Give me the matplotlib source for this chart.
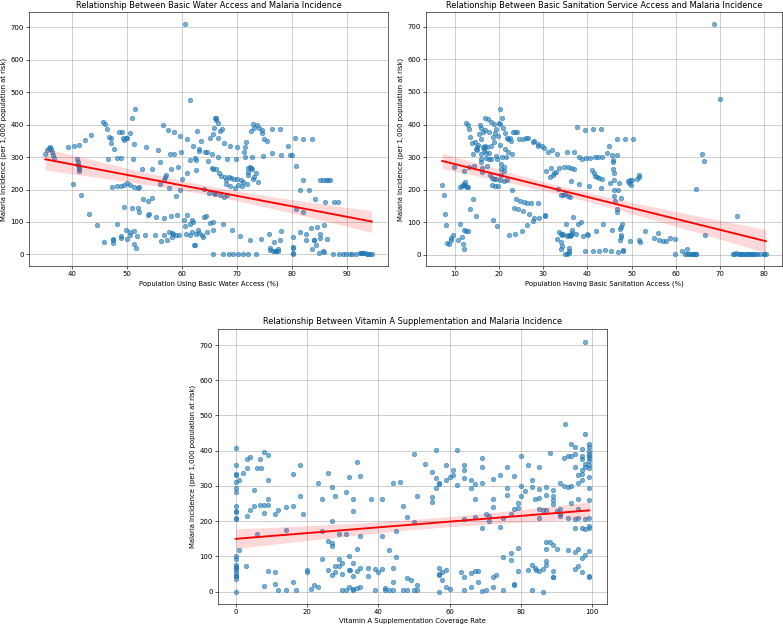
import numpy as np
import matplotlib
matplotlib.use("Agg")
import matplotlib.pyplot as plt

# --- data --------------------------------------------------------------
water_x = [
    35.2, 35.5, 35.8, 36.0, 36.2, 36.4, 36.6, 36.7,
    39.4, 40.4, 41.4, 42.5, 43.5,
    41.0, 41.1, 41.2, 41.3, 41.3, 41.4,
    40.2, 41.7, 43.2, 44.6,
    45.6, 46.1, 46.4, 46.8, 47.2, 47.2, 47.6,
    46.5, 48.2, 49.0,
    48.6, 49.1, 49.3, 49.5, 49.8, 50.1, 50.6,
    51.0, 51.5, 51.3, 51.2,
    47.3, 48.2, 48.9, 49.5, 50.0, 50.5, 51.3, 52.0, 52.3,
    45.9, 47.5, 47.5, 47.5, 48.3, 48.9, 49.0, 49.5, 49.8, 50.1,
    50.6, 50.5, 51.0, 51.3, 51.4, 51.6, 51.8, 52.0, 52.3,
    52.8, 52.9, 53.4, 53.5, 53.8, 53.9, 54.0, 54.6, 54.5, 55.1, 55.3, 55.6,
    56.0, 56.1, 56.3, 56.5, 56.8, 56.7, 56.8, 57.0, 57.2, 57.3,
    57.5, 57.6, 57.7, 57.8, 58.0,
    58.1, 58.2, 58.3, 58.4, 58.6, 58.6, 59.0, 59.2, 59.3, 59.6,
    59.7, 59.9, 59.5, 59.0,
    60.0, 60.4, 60.5, 60.5, 60.8, 61.0, 61.0, 61.0, 61.4, 61.5,
    61.5, 61.5, 61.8, 61.9, 62.0, 62.1, 62.2, 62.4, 62.4, 62.5,
    62.6, 62.5, 62.8, 62.9, 63.1, 63.2, 63.2, 63.5, 63.6, 63.8,
    64.0, 64.1, 64.2, 64.4, 64.6, 64.6, 64.8, 64.9, 65.1, 65.2,
    65.4, 65.5, 65.6, 65.6, 65.6, 65.6, 65.7, 65.8, 65.9, 66.0,
    66.0, 66.2, 66.2, 66.3, 66.5, 66.5, 66.6, 66.8, 66.9, 67.0,
    67.2, 67.3, 67.4, 67.4, 67.6, 67.7, 67.9, 68.0, 68.1, 68.2,
    68.3, 68.5, 68.6, 68.8, 68.8, 69.0, 69.1, 69.3, 69.5, 69.7,
    69.8, 70.0, 70.1, 70.2, 70.3, 70.6, 70.8, 70.9, 71.2, 71.2,
    71.3, 71.4, 71.4, 71.7, 71.8, 72.0, 72.0, 72.0, 72.1, 72.3,
    72.4, 72.5, 72.6, 72.7, 72.8, 73.0, 73.0, 73.1, 73.2, 73.4,
    73.5, 73.6, 73.9, 74.0, 74.3, 74.6, 74.6, 74.8, 75.0, 75.4,
    75.9, 76.0, 76.0, 76.3, 76.4, 76.5, 76.8, 76.9, 77.2, 77.4,
    77.5, 77.8, 77.9, 78.0, 78.1, 79.3, 79.7, 80.0, 80.2, 80.2,
    80.2, 80.2, 80.2, 80.6, 80.8, 80.8, 81.5, 81.4, 82.0, 82.1,
    82.1, 82.6, 82.6, 83.2, 83.4, 83.7, 83.6, 84.0, 84.1, 84.2,
    84.3, 84.6, 84.9, 85.1, 85.2, 85.2, 85.6, 85.6, 85.8, 85.8,
    86.0, 86.2, 86.3, 86.5, 86.9, 87.5, 87.6, 88.3, 88.6, 89.3,
    89.9, 90.5, 91.0, 91.6, 92.3, 92.6, 92.8, 93.0, 93.3, 93.6,
    93.9, 94.2, 94.5,
]
water_y = [
    310, 322, 328, 330, 326, 315, 305, 297,
    330, 334, 337, 353, 368,
    295, 285, 276, 270, 262, 256,
    216, 183, 124, 90,
    407, 402, 386, 363, 359, 343, 325,
    294, 296, 296,
    378, 378, 358, 353, 358, 359, 375,
    420, 448, 340, 295,
    209, 211, 210, 214, 220, 215, 207, 205, 208,
    38, 49, 43, 36, 94, 58, 52, 145, 76, 47,
    70, 60, 142, 72, 33, 20, 57, 143, 132,
    263, 172, 60, 330, 122, 166, 125, 175, 263, 60, 115, 322,
    216, 285, 40, 398, 112, 59, 230, 240, 245, 43,
    383, 70, 204, 310, 262,
    118, 65, 55, 62, 308, 378, 180, 120, 268, 365,
    200, 315, 60, 60,
    232, 105, 711, 88, 62, 355, 122, 250, 60, 290,
    95, 477, 70, 105, 335, 100, 30, 28, 298, 290,
    261, 63, 380, 75, 65, 325, 320, 350, 60, 55,
    115, 202, 315, 118, 315, 68, 288, 188, 97, 360,
    308, 267, 262, 100, 75, 2, 370, 390, 190, 185,
    420, 420, 413, 262, 358, 405, 300, 250, 182, 380,
    243, 385, 95, 2, 344, 178, 240, 228, 218, 182,
    295, 2, 238, 210, 335, 236, 75, 2, 233, 205,
    295, 232, 330, 215, 2, 56, 228, 210, 222, 2,
    315, 300, 332, 345, 218, 255, 245, 2, 265, 270,
    43, 267, 379, 262, 300, 403, 232, 240, 390, 2,
    250, 400, 222, 390, 47, 383, 375, 302, 357, 349,
    62, 20, 13, 312, 387, 12, 38, 10, 12, 17,
    10, 45, 387, 72, 306, 333, 305, 307, 53, 22,
    20, 5, 2, 358, 271, 140, 200, 68, 230, 130,
    355, 63, 43, 197, 80, 17, 354, 46, 45, 170,
    28, 83, 4, 62, 52, 228, 11, 228, 92, 8,
    162, 228, 48, 228, 230, 2, 160, 160, 1, 2,
    2, 1, 0, 1, 3, 4, 4, 3, 3, 2,
    1, 1, 0,
]

sanit_x = [
    7.1, 7.4, 7.8, 8.0, 8.3, 8.7, 9.0, 9.2, 9.5, 9.85,
    10.6, 11.05, 11.2, 11.5, 11.8, 12.0, 12.2, 12.5, 12.7, 12.9,
    11.5, 11.9, 12.0, 12.0, 12.5, 13.0,
    12.4, 12.9, 13.2, 13.5, 13.9,
    13.2, 12.0, 13.5, 14.0, 14.1, 14.3, 14.8, 14.7, 14.9,
    15.2, 15.5, 15.7, 15.8, 15.9, 15.9, 16.0, 16.0, 16.1, 16.2,
    16.3, 16.5, 16.6, 16.7, 16.7, 16.8, 17.0, 17.0, 17.2, 17.2,
    17.5, 17.6, 17.7, 18.0, 18.1, 18.1, 18.2, 18.3, 18.4, 18.5,
    18.5, 18.8, 18.8, 18.9, 19.0, 19.1, 19.2, 19.3, 19.3, 19.5,
    19.5, 19.7, 19.9, 20.1, 20.1, 20.2, 20.2, 20.4, 20.5, 20.5,
    20.6, 20.7, 20.8, 21.0, 21.1, 21.2, 21.4, 21.4, 21.7, 21.8,
    22.0, 22.1, 22.3, 22.5, 22.6, 22.8, 23.0, 23.1, 23.4, 23.5,
    23.7, 23.9, 24.0, 24.3, 24.5, 24.8, 25.1, 25.3, 25.5, 25.6,
    26.0, 26.2, 26.4, 26.5, 26.8, 27.3, 27.6, 27.7, 27.8, 28.0,
    28.7, 28.8, 28.9, 29.0, 29.7, 30.2, 30.3, 30.5, 30.6, 31.0,
    31.5, 31.8, 32.0, 32.2, 32.4, 32.9, 33.0, 33.2, 33.3, 33.5,
    33.6, 33.9, 34.0, 34.0, 34.0, 34.2, 34.3, 34.5, 34.5, 34.8,
    34.9, 35.0, 35.1, 35.3, 35.4, 35.4, 35.5, 35.5, 35.6, 35.8,
    35.9, 35.9, 36.0, 36.0, 36.1, 36.2, 36.2, 36.3, 36.5, 36.6,
    36.8, 36.9, 37.0, 37.3, 37.6, 37.9, 38.0, 38.2, 38.5, 38.8,
    39.0, 39.5, 39.5, 39.6, 40.0, 40.2, 40.4, 40.6, 41.0, 41.2,
    41.3, 41.5, 41.8, 41.8, 42.0, 42.2, 42.5, 42.6, 42.6, 43.0,
    43.1, 43.2, 43.3, 43.5, 44.0, 44.4, 44.8, 45.0, 45.4, 45.6,
    45.6, 45.9, 45.9, 45.9, 46.0, 46.0, 46.1, 46.1, 46.2, 46.6,
    46.7, 46.8, 46.8, 46.9, 46.9, 47.2, 47.3, 47.4, 47.5, 47.6,
    47.7, 47.7, 47.9, 48.1, 48.1, 48.5, 49.2, 49.4, 49.6, 49.7,
    49.9, 50.0, 50.4, 51.3, 51.6, 51.7, 51.7, 51.8, 53.0, 55.0,
    56.0, 56.2, 57.0, 57.8, 58.8, 59.8, 59.9, 61.5, 62.0, 62.6,
    63.0, 63.4, 64.0, 64.6, 64.6, 64.7, 65.9, 66.3, 66.6, 68.6,
    70.0, 73.0, 73.3, 73.6, 73.9, 74.5, 75.0, 75.8, 76.2, 76.9,
    77.5, 78.5, 79.9, 80.4,
    14.5, 15.0, 16.4, 17.8, 19.8, 21.5, 62.5, 63.8,
    74.0, 74.8, 75.4, 76.5, 77.2, 78.0, 79.0, 80.0,
]
sanit_y = [
    215, 183, 124, 90, 36, 33, 50, 46, 61, 269,
    45, 95, 208, 210, 213, 218, 222, 210, 207, 207,
    56, 33, 19, 76, 73, 73,
    406, 400, 385, 362, 344,
    270, 258, 142, 310, 170, 273, 120, 325, 330,
    338, 370, 398, 390, 355, 310, 295, 284, 265, 255,
    330, 320, 328, 333, 420, 382, 312, 298, 330, 273,
    418, 378, 313, 245, 408, 335, 295, 235, 213, 362,
    106, 402, 233, 345, 210, 375, 302, 385, 232, 295,
    88, 212, 405, 338, 230, 447, 402, 262, 245, 280,
    300, 420, 390, 270, 258, 228, 375, 325, 230, 358,
    315, 355, 62, 358, 350, 198, 308, 378, 143, 378,
    64, 170, 378, 140, 355, 165, 72, 357, 133, 162,
    358, 92, 160, 358, 125, 160, 345, 104, 350, 113,
    160, 333, 340, 113, 335, 328, 118, 122, 258, 315,
    240, 265, 322, 245, 250, 255, 48, 310, 202, 70,
    265, 65, 185, 40, 18, 28, 60, 65, 185, 268,
    2, 188, 95, 58, 315, 3, 268, 60, 180, 12,
    5, 22, 62, 57, 178, 265, 228, 62, 68, 75,
    116, 262, 315, 65, 392, 96, 300, 218, 100, 295,
    57, 383, 12, 296, 65, 60, 210, 298, 260, 12,
    385, 250, 300, 243, 72, 240, 300, 235, 12, 205,
    386, 232, 300, 96, 14, 312, 335, 220, 12, 305,
    75, 285, 292, 262, 250, 230, 200, 180, 165, 140,
    130, 357, 305, 200, 10, 220, 80, 45, 62, 85,
    175, 55, 93, 12, 16, 355, 228, 220, 42, 230,
    215, 230, 355, 232, 240, 245, 45, 38, 72, 52,
    68, 45, 42, 43, 50, 48, 2, 12, 2, 18,
    2, 3, 2, 2, 202, 3, 308, 288, 62, 710,
    477, 2, 3, 5, 118, 2, 2, 2, 3, 2,
    2, 1, 2, 1,
    345, 322, 378, 295, 365, 300, 2, 2,
    2, 1, 3, 2, 1, 2, 1, 2,
]

vita_x = [
    0, 0, 0, 0, 0, 0, 0, 0, 0, 0,
    0, 0, 0, 0, 0, 0, 0, 0, 0, 0, 0,
    1, 1, 2, 3.1, 3.1, 3.1, 3, 3.9, 3.9, 5,
    5, 5.9, 5.9, 6.9, 7, 6.9, 8, 7.9, 8, 8,
    9, 9, 9, 9, 9, 10.9, 10.9, 10.9, 12, 12,
    14, 14, 14, 16, 16, 16, 17, 18, 18, 19,
    20, 20, 21, 22, 23, 23, 24.1, 24.1, 24.1, 26,
    26, 26, 27, 27, 27, 27, 27, 28, 28, 28,
    28.9, 28.9, 29.1, 29.9, 29.9, 29.9, 30.9, 30.9, 30.9, 31.9,
    31.9, 31.9, 32.2, 31.9, 33, 33, 33, 33, 33, 33,
    34, 34, 34, 34, 35, 35, 35, 35, 37, 37,
    38, 39, 39, 39.9, 41, 41, 41, 42, 42, 43,
    43, 44, 44, 44, 44, 45, 45, 46, 47, 47,
    48, 48, 48, 49.1, 50, 50, 50, 51, 51, 51,
    53.1, 55, 55, 55, 56.1, 56.1, 56.1, 57, 57.1, 57.1,
    57.1, 57.1, 57.1, 58, 58, 59, 59, 59, 59, 60.1,
    60.1, 61, 61.1, 62, 62, 63.1, 64.1, 64.1, 64.1, 64.1,
    64.1, 64.1, 66, 66, 66, 66, 67.1, 67.1, 67.1, 67.1,
    68.1, 68.1, 69.1, 69.1, 69.1, 69.1, 69.1, 70.1, 70.1, 71.1,
    71.1, 72.1, 72.1, 72.1, 72.1, 72.1, 73.1, 74.1, 74.1, 75.1,
    75.1, 75.1, 76.1, 76.1, 76.1, 77.1, 77.1, 77.1, 78.1, 78.1,
    78.1, 78.1, 79.1, 79.1, 79.1, 79.1, 80, 80.1, 80.1, 81.1,
    82.1, 82.1, 83.1, 83.1, 83.1, 83.1, 84.1, 84.1, 84.3, 85.2,
    85.2, 85.2, 85.2, 85.2, 85.2, 86.1, 86.1, 86.1, 87.1, 87.1,
    87.1, 87.1, 87.1, 87.1, 87.1, 88.1, 88.1, 89.1, 89.1, 89.1,
    89.1, 89.1, 89.1, 89.1, 89.1, 90.1, 90.1, 91.1, 91.1, 91.1,
    91.1, 92.1, 92.1, 92.3, 93.1, 93.1, 93.1, 93.1, 94.1, 94.1,
    94.1, 94.1, 95.1, 95.1, 95.1, 95.1, 95.1, 95.1, 95.1, 96.1,
    96.1, 96.1, 96.1, 96.1, 96.1, 96.1, 97.1, 97.1, 97.1, 97.1,
    97.1, 97.1, 97.1, 97.1, 97.1, 98.1, 98.1, 98.1, 98.1, 98.1,
    98.1, 98.1, 99.2, 99.2, 99.2, 99.2, 99.2, 99.2, 99.2, 99.2,
    99.2, 99.2, 99.2, 99.2, 99.2, 99.2, 99.2, 99.2,
    0, 0, 99.2, 99.2,
]
vita_y = [
    408, 358, 333, 332, 312, 293, 283, 243, 230, 226,
    208, 205, 102, 92, 75, 70, 66, 60, 45, 44, 0,
    317, 118, 336, 352, 375, 215, 73, 383, 231, 288,
    242, 352, 164, 377, 350, 245, 397, 245, 223, 17,
    387, 317, 262, 245, 58, 220, 56, 21, 232, 3,
    239, 175, 3, 335, 242, 28, 3, 358, 270, 221,
    60, 55, 6, 18, 308, 12, 262, 172, 92, 336,
    143, 62, 297, 200, 139, 129, 48, 270, 72, 55,
    92, 164, 72, 80, 50, 3, 283, 163, 3, 325,
    101, 62, 60, 13, 262, 229, 80, 44, 8, 3,
    368, 121, 58, 10, 329, 159, 66, 12, 66, 45,
    262, 65, 3, 56, 264, 159, 65, 10, 3, 117,
    3, 307, 66, 27, 3, 172, 97, 311, 242, 5,
    213, 38, 5, 32, 390, 197, 3, 270, 18, 3,
    361, 340, 269, 254, 402, 322, 295, 308, 305, 68,
    50, 48, 0, 33, 55, 358, 316, 62, 12, 325,
    8, 346, 330, 402, 302, 55, 358, 345, 322, 207,
    42, 3, 316, 295, 52, 12, 306, 262, 212, 58,
    58, 28, 379, 355, 308, 180, 2, 221, 3, 214,
    200, 319, 262, 240, 42, 12, 46, 330, 183, 209,
    97, 3, 355, 295, 275, 221, 108, 90, 328, 233,
    22, 18, 251, 238, 123, 58, 386, 300, 272, 285,
    358, 62, 316, 298, 75, 3, 263, 66, 62, 355,
    292, 265, 233, 210, 57, 232, 63, 0, 298, 275,
    232, 140, 122, 88, 75, 392, 142, 288, 270, 260,
    248, 132, 58, 42, 40, 230, 122, 309, 235, 220,
    215, 378, 300, 476, 386, 298, 208, 118, 419, 385,
    300, 252, 410, 390, 355, 205, 180, 112, 65, 331,
    308, 262, 235, 210, 122, 72, 404, 385, 375, 345,
    335, 318, 180, 95, 55, 447, 362, 355, 205, 178,
    105, 710, 420, 400, 385, 378, 372, 360, 350, 325,
    295, 260, 210, 185, 180, 115, 45, 40,
    52, 35, 410, 390,
]

ylabel = "Malaria Incidence (per 1,000 population at risk)"


def regplot(ax, x, y):
    x = np.asarray(x, dtype=float)
    y = np.asarray(y, dtype=float)
    ax.scatter(x, y, s=36, alpha=0.6, color="#1f77b4", zorder=2)

    # ordinary least squares + analytic 95% band for the mean
    n = len(x)
    slope, icpt = np.polyfit(x, y, 1)
    grid = np.linspace(x.min(), x.max(), 100)
    fit = icpt + slope * grid
    resid = y - (icpt + slope * x)
    s = np.sqrt(np.sum(resid ** 2) / (n - 2))
    sxx = np.sum((x - x.mean()) ** 2)
    se = s * np.sqrt(1.0 / n + (grid - x.mean()) ** 2 / sxx)
    ax.fill_between(grid, fit - 1.97 * se, fit + 1.97 * se,
                    color="red", alpha=0.15, linewidth=0, zorder=3)
    ax.plot(grid, fit, color="red", lw=2.5, zorder=4)
    ax.grid(True)


W, H = 783, 628
fig = plt.figure(figsize=(14.5, 628 / 54), dpi=54)


def px_axes(l, t, r, b):
    return fig.add_axes([l / W, 1 - b / H, (r - l) / W, (b - t) / H])


ax1 = px_axes(29, 12, 388, 266)
ax2 = px_axes(426, 12, 782, 266)
ax3 = px_axes(218, 329, 607, 604)

tfs, lfs = 11, 9.2

regplot(ax1, water_x, water_y)
ax1.set_title("Relationship Between Basic Water Access and Malaria Incidence", fontsize=tfs)
ax1.set_xlabel("Population Using Basic Water Access (%)", fontsize=lfs)
ax1.set_ylabel(ylabel, fontsize=lfs)

regplot(ax2, sanit_x, sanit_y)
ax2.set_title("Relationship Between Basic Sanitation Service Access and Malaria Incidence", fontsize=tfs)
ax2.set_xlabel("Population Having Basic Sanitation Access (%)", fontsize=lfs)
ax2.set_ylabel(ylabel, fontsize=lfs)

regplot(ax3, vita_x, vita_y)
ax3.set_title("Relationship Between Vitamin A Supplementation and Malaria Incidence", fontsize=tfs)
ax3.set_xlabel("Vitamin A Supplementation Coverage Rate", fontsize=lfs)
ax3.set_ylabel(ylabel, fontsize=lfs)

for ax in (ax1, ax2, ax3):
    ax.set_yticks([0, 100, 200, 300, 400, 500, 600, 700])
    ax.tick_params(labelsize=lfs)

fig.savefig("out.png", dpi=54)
